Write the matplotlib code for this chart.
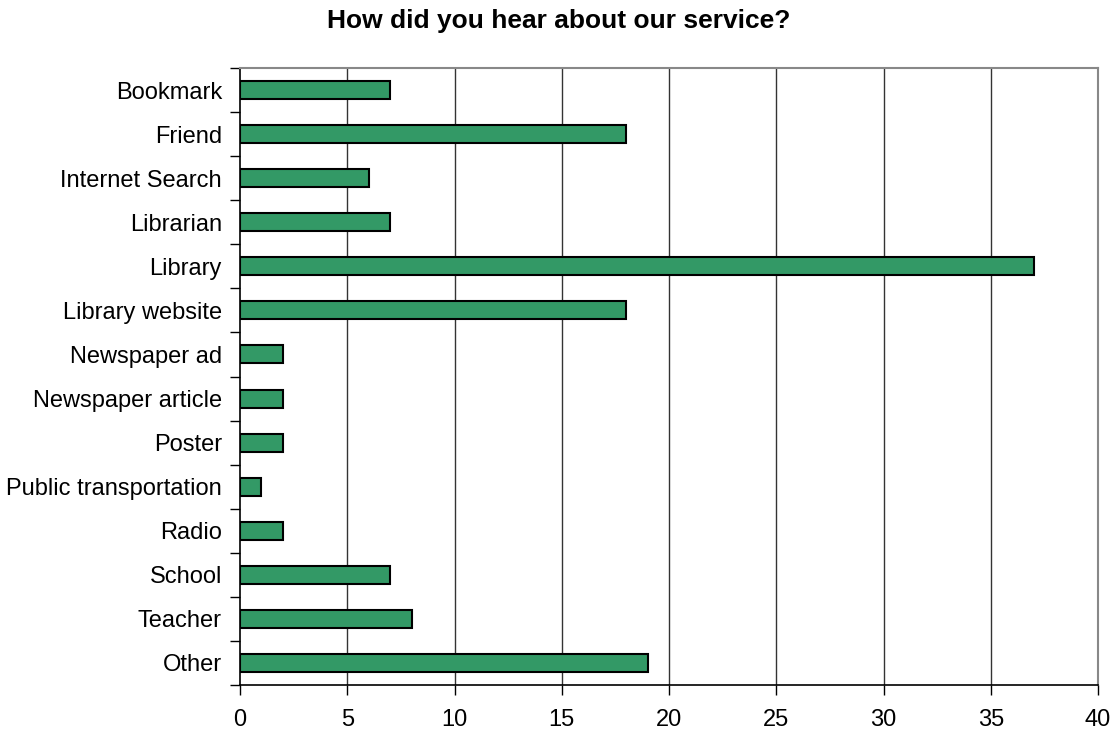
import numpy as np
import matplotlib.pyplot as plt

plt.rcParams['font.family'] = ['Liberation Sans', 'DejaVu Sans']

sources = ["Bookmark", "Friend", "Internet Search", "Librarian", "Library",
           "Library website", "Newspaper ad", "Newspaper article", "Poster",
           "Public transportation", "Radio", "School", "Teacher", "Other"]
counts = [7, 18, 6, 7, 37, 18, 2, 2, 2, 1, 2, 7, 8, 19]
x_ticks = [0, 5, 10, 15, 20, 25, 30, 35, 40]


def main():
    fig = plt.figure(figsize=(11.17, 7.31), dpi=100)
    ax = fig.add_axes([0.2149, 0.0629, 0.983 - 0.2149, 0.907 - 0.0629])

    y = np.arange(len(sources))
    ax.barh(y, counts, height=0.41, color="#339966", edgecolor="black",
            linewidth=1.5, zorder=3)

    ax.set_ylim(len(sources) - 0.5, -0.5)
    ax.set_xlim(0, 40)
    ax.set_xticks(x_ticks)
    ax.set_xticklabels([str(t) for t in x_ticks], fontsize=17)

    # category labels at centers, tick marks at boundaries
    ax.set_yticks(y)
    ax.set_yticklabels(sources, fontsize=17)
    ax.tick_params(axis='y', which='major', length=0, pad=13)
    ax.set_yticks(np.arange(len(sources) + 1) - 0.5, minor=True)
    ax.tick_params(axis='y', which='minor', length=7, width=1, color='black')
    ax.tick_params(axis='x', length=7, width=1, pad=10)

    for x in x_ticks[1:-1]:
        ax.axvline(x, color="#333333", linewidth=1, zorder=1)

    for side in ('left', 'bottom'):
        ax.spines[side].set_color('black')
        ax.spines[side].set_linewidth(1.2)
    for side in ('top', 'right'):
        ax.spines[side].set_color('#888888')
        ax.spines[side].set_linewidth(1.5)

    fig.suptitle("How did you hear about our service?", fontsize=19,
                 fontweight='bold', x=0.5, y=0.988)

    fig.savefig("out.png", dpi=100)


if __name__ == "__main__":
    main()
